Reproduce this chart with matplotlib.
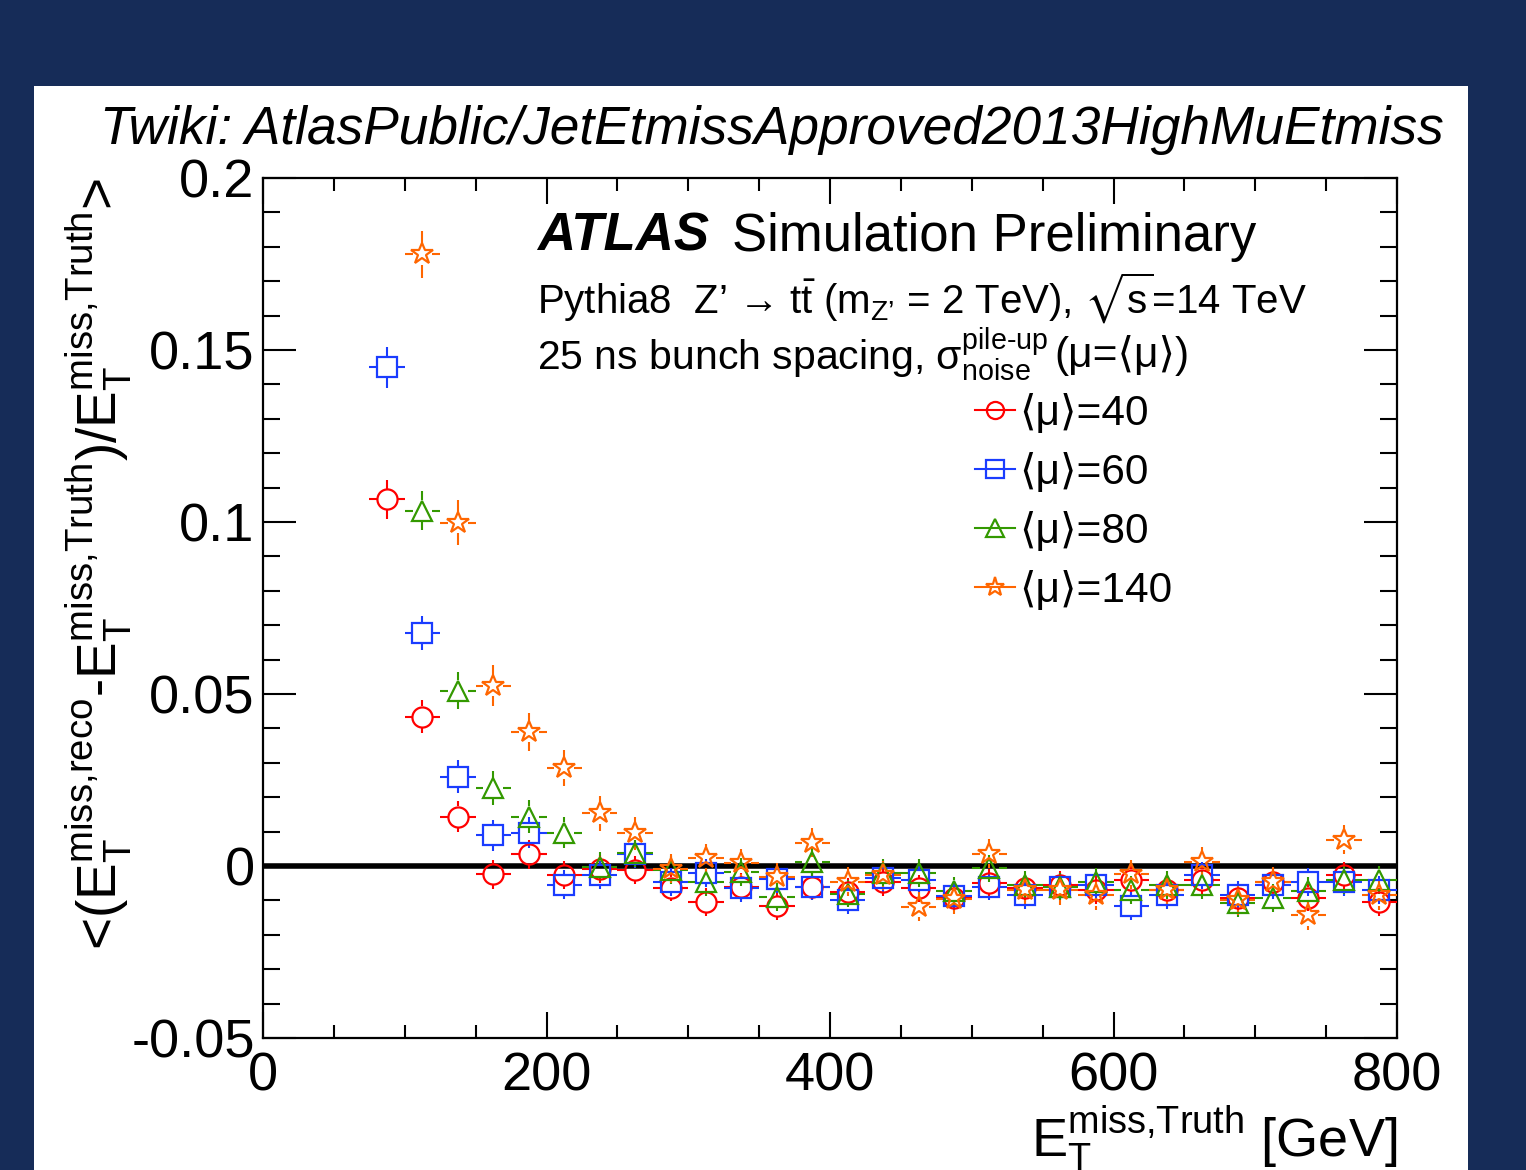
import numpy as np
import matplotlib
matplotlib.use("Agg")
import matplotlib.pyplot as plt
from matplotlib.lines import Line2D
from matplotlib.patches import Rectangle
from matplotlib.ticker import MultipleLocator

plt.rcParams['font.family'] = ['Liberation Sans', 'DejaVu Sans']
plt.rcParams['mathtext.fontset'] = 'custom'
plt.rcParams['mathtext.rm'] = 'Liberation Sans'
plt.rcParams['mathtext.it'] = 'Liberation Sans:italic'
plt.rcParams['mathtext.bf'] = 'Liberation Sans:bold'
plt.rcParams['mathtext.fallback'] = 'stixsans'

# ---------------- data ----------------
bin_centers = [87.5, 112.5, 137.5, 162.5, 187.5, 212.5, 237.5, 262.5, 287.5, 312.5,
               337.5, 362.5, 387.5, 412.5, 437.5, 462.5, 487.5, 512.5, 537.5, 562.5,
               587.5, 612.5, 637.5, 662.5, 687.5, 712.5, 737.5, 762.5, 787.5]
bin_half_width = 12.5

mu40 = [0.1066, 0.0434, 0.0143, -0.0024, 0.0034, -0.0026, -0.0009, -0.0012, -0.0063, -0.0104,
        -0.0060, -0.0116, -0.0060, -0.0075, -0.0046, -0.0065, -0.0092, -0.0050, -0.0065, -0.0055,
        -0.0070, -0.0040, -0.0070, -0.0040, -0.0093, -0.0046, -0.0092, -0.0027, -0.0104]
mu40_err = [0.0057, 0.0048, 0.0045, 0.0042, 0.0042, 0.0041, 0.0040, 0.0040, 0.0040, 0.0040,
            0.0040, 0.0040, 0.0040, 0.0040, 0.0040, 0.0040, 0.0040, 0.0040, 0.0040, 0.0040,
            0.0040, 0.0040, 0.0040, 0.0040, 0.0040, 0.0040, 0.0040, 0.0040, 0.0040]

mu60 = [0.1450, 0.0678, 0.0260, 0.0090, 0.0097, -0.0055, -0.0026, 0.0035, -0.0046, -0.0020,
        -0.0065, -0.0038, -0.0060, -0.0099, -0.0036, -0.0041, -0.0087, -0.0060, -0.0085, -0.0060,
        -0.0055, -0.0117, -0.0085, -0.0027, -0.0085, -0.0055, -0.0046, -0.0046, -0.0070]
mu60_err = [0.0060, 0.0050, 0.0048, 0.0045, 0.0045, 0.0042, 0.0040, 0.0040, 0.0040, 0.0040,
            0.0040, 0.0040, 0.0040, 0.0040, 0.0040, 0.0040, 0.0040, 0.0040, 0.0040, 0.0040,
            0.0040, 0.0040, 0.0040, 0.0040, 0.0040, 0.0040, 0.0040, 0.0040, 0.0040]

mu80 = [np.nan, 0.1033, 0.0510, 0.0227, 0.0143, 0.0097, -0.0002, 0.0037, -0.0012, -0.0046,
        -0.0017, -0.0090, 0.0012, -0.0080, -0.0021, -0.0021, -0.0072, -0.0007, -0.0055, -0.0060,
        -0.0046, -0.0070, -0.0055, -0.0055, -0.0108, -0.0093, -0.0073, -0.0040, -0.0040]
mu80_err = [np.nan, 0.0057, 0.0054, 0.0050, 0.0048, 0.0045, 0.0042, 0.0040, 0.0040, 0.0040,
            0.0040, 0.0040, 0.0040, 0.0040, 0.0040, 0.0040, 0.0040, 0.0040, 0.0040, 0.0040,
            0.0040, 0.0040, 0.0040, 0.0040, 0.0040, 0.0040, 0.0040, 0.0040, 0.0040]

mu140 = [np.nan, 0.1778, 0.0998, 0.0524, 0.0390, 0.0284, 0.0153, 0.0095, -0.0008, 0.0023,
         0.0008, -0.0032, 0.0068, -0.0046, -0.0027, -0.0118, -0.0097, 0.0036, -0.0070, -0.0070,
         -0.0085, -0.0024, -0.0070, 0.0012, -0.0099, -0.0046, -0.0143, 0.0076, -0.0085]
mu140_err = [np.nan, 0.0068, 0.0065, 0.0060, 0.0056, 0.0052, 0.0050, 0.0048, 0.0042, 0.0042,
             0.0042, 0.0042, 0.0042, 0.0042, 0.0042, 0.0042, 0.0042, 0.0042, 0.0042, 0.0042,
             0.0042, 0.0042, 0.0042, 0.0042, 0.0042, 0.0042, 0.0042, 0.0042, 0.0042]

labels = ['⟨μ⟩=40', '⟨μ⟩=60', '⟨μ⟩=80', '⟨μ⟩=140']
x_ticks = [0, 200, 400, 600, 800]
y_ticks = [-0.05, 0, 0.05, 0.1, 0.15, 0.2]
y_ticklabels = ['-0.05', '0', '0.05', '0.1', '0.15', '0.2']

# ---------------- style ----------------
colors = ['#ff0000', '#1a3cff', '#339900', '#ff6600']
markers = ['o', 's', '^', '*']
msizes = [14.5, 14.5, 14.5, 16.5]
gap_x = 7.0      # marker half-width in GeV (error bars stop at marker edge)
gap_y = 0.0030   # marker half-height in y units
lw = 1.5

W, H = 1526, 1170
fig = plt.figure(figsize=(W / 100, H / 100), dpi=100)
fig.patch.set_facecolor('#162c58')
fig.patches.append(Rectangle((34 / W, 0), 1434 / W, 1084 / H, transform=fig.transFigure,
                             fc='white', ec='none', zorder=-5))

ax = fig.add_axes([263 / W, 1 - 1038 / H, 1134 / W, 860 / H])
ax.set_zorder(2)
ax.patch.set_alpha(0)
ax.set_xlim(0, 800)
ax.set_ylim(-0.05, 0.2)

ax.axhline(0, color='black', lw=4, zorder=1)

series = [(mu40, mu40_err), (mu60, mu60_err), (mu80, mu80_err), (mu140, mu140_err)]
xs = np.array(bin_centers)
for (vals, errs), c, m, ms in zip(series, colors, markers, msizes):
    y = np.array(vals, dtype=float)
    e = np.array(errs, dtype=float)
    ok = ~np.isnan(y)
    xx, yy, ee = xs[ok], y[ok], e[ok]
    ax.hlines(yy, xx - bin_half_width, xx - gap_x, colors=c, lw=lw, zorder=3)
    ax.hlines(yy, xx + gap_x, xx + bin_half_width, colors=c, lw=lw, zorder=3)
    big = ee > gap_y
    ax.vlines(xx[big], yy[big] + gap_y, yy[big] + ee[big], colors=c, lw=lw, zorder=3)
    ax.vlines(xx[big], yy[big] - ee[big], yy[big] - gap_y, colors=c, lw=lw, zorder=3)
    ax.plot(xx, yy, ls='none', marker=m, ms=ms, mfc='none', mec=c, mew=1.6, zorder=4)

for s in ax.spines.values():
    s.set_linewidth(1.6)
ax.set_xticks(x_ticks)
ax.set_xticklabels([str(v) for v in x_ticks])
ax.set_yticks(y_ticks)
ax.set_yticklabels(y_ticklabels)
ax.xaxis.set_minor_locator(MultipleLocator(50))
ax.yaxis.set_minor_locator(MultipleLocator(0.01))
ax.tick_params(axis='both', which='both', direction='in', top=True, right=True, width=1.5,
               labelsize=39)
ax.tick_params(axis='x', which='major', length=19, pad=10)
ax.tick_params(axis='x', which='minor', length=9.5)
ax.tick_params(axis='y', which='major', length=24, pad=6)
ax.tick_params(axis='y', which='minor', length=12)

ax.set_ylabel(r'<($\mathrm{E}_{\rm T}^{\rm miss{,}reco}$-$\mathrm{E}_{\rm T}^{\rm miss{,}Truth}$)'
              r'/$\mathrm{E}_{\rm T}^{\rm miss{,}Truth}$>',
              fontsize=39.5, loc='top')
ax.yaxis.set_label_coords(-0.114, 1.0)
ax.set_xlabel(r'$\mathrm{E}_{\rm T}^{\rm miss{,}Truth}$ [GeV]', fontsize=39, loc='right')
ax.xaxis.set_label_coords(1.0, -0.076)


def fx(px):
    return px / W


def fy(py):
    return 1 - py / H


fig.text(fx(100), fy(130), 'Twiki: AtlasPublic/JetEtmissApproved2013HighMuEtmiss',
         fontsize=38.3, style='italic', va='center', ha='left')
fig.text(fx(537), fy(237), 'ATLAS', fontsize=38, style='italic', weight='bold',
         va='center', ha='left')
fig.text(fx(732), fy(237), 'Simulation Preliminary', fontsize=38, va='center', ha='left')
fig.text(fx(537), fy(298),
         r'Pythia8  Z’ → $\mathrm{t\bar{t}}$ ($\mathrm{m}_{\mathrm{Z’}}$ = 2 TeV), $\sqrt{\mathrm{s}}$=14 TeV',
         fontsize=29, va='center', ha='left')
t25 = fig.text(fx(537), fy(355),
               r'25 ns bunch spacing, $\mathrm{\sigma}^{\text{pile-up}}_{\text{noise}}$',
               fontsize=29.5, va='center', ha='left')
fig.canvas.draw()
bb = t25.get_window_extent()
fig.text((bb.x1 + 6) / W, fy(355), '(μ=⟨μ⟩)', fontsize=30.5, va='center', ha='left',
         family=['Liberation Sans', 'DejaVu Sans'])

handles = [Line2D([], [], color=c, lw=lw, marker=m, ms=ms * 0.85, mfc='none', mec=c, mew=1.6)
           for c, m, ms in zip(colors, markers, msizes)]
ax.legend(handles, labels, loc='upper left', bbox_to_anchor=(fx(975), fy(394)),
          bbox_transform=fig.transFigure, frameon=False,
          handlelength=0.95, handletextpad=0.1, labelspacing=0.45, borderpad=0, borderaxespad=0,
          prop={'family': ['Liberation Sans', 'DejaVu Sans'], 'size': 30.5})

fig.savefig('out.png', dpi=100, facecolor=fig.get_facecolor())
